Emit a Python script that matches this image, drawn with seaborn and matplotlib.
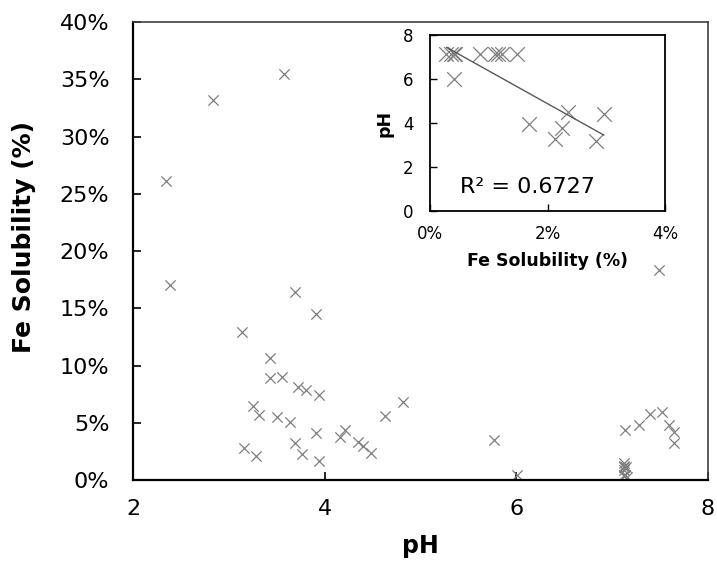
import matplotlib
matplotlib.use("Agg")
import matplotlib.pyplot as plt
import seaborn as sns
import numpy as np
import pandas as pd
from matplotlib.ticker import PercentFormatter

# pH values of the samples
ph = [2.34, 2.84, 3.58, 2.39, 3.69, 3.91, 3.14, 3.43, 3.43, 3.56,
      3.72, 3.81, 3.94, 3.25, 3.32, 3.50, 3.64, 3.91, 3.16, 3.28,
      3.69, 3.76, 3.94, 4.16, 4.21, 4.35, 4.40, 4.48, 4.63, 4.82,
      7.49, 5.77, 6.01, 7.13, 7.28, 7.39, 7.52, 7.59, 7.65, 7.65,
      7.15, 7.12, 7.13, 7.12, 7.12, 7.14, 7.12, 7.12, 7.12]
# Fe solubility in percent
sol_pct = [26.1, 33.2, 35.5, 17.0, 16.4, 14.5, 12.9, 10.7, 8.9, 9.0,
           8.1, 7.9, 7.4, 6.5, 5.7, 5.5, 5.1, 4.1, 2.82, 2.12,
           3.2, 2.25, 1.68, 3.8, 4.4, 3.3, 2.96, 2.35, 5.6, 6.8,
           18.3, 3.5, 0.40, 4.4, 4.8, 5.8, 5.9, 4.8, 4.2, 3.2,
           0.28, 0.35, 0.40, 0.43, 0.85, 1.11, 1.16, 1.22, 1.48]

main_xticks = [2, 4, 6, 8]
main_yticks = [0, 0.05, 0.10, 0.15, 0.20, 0.25, 0.30, 0.35, 0.40]
inset_xticks = [0, 0.02, 0.04]
inset_yticks = [0, 2, 4, 6, 8]
inset_cutoff = 3.0
r2_text = "R² = 0.6727"

sns.set_style("ticks")
plt.rcParams['font.family'] = ['DejaVu Sans']
plt.rcParams['axes.labelcolor'] = 'black'
plt.rcParams['text.color'] = 'black'

df = pd.DataFrame({"pH": ph, "sol": np.array(sol_pct) / 100.0})
sub = df[df["sol"] * 100 < inset_cutoff]

fig = plt.figure(figsize=(7.17, 5.67), dpi=100)
ax = fig.add_axes([0.1855, 0.1534, 0.9874 - 0.1855, 0.9612 - 0.1534])

mcol = "#7f7f7f"
sns.scatterplot(data=df, x="pH", y="sol", ax=ax, marker="x", s=55,
                color=mcol, linewidth=0.9, legend=False)
ax.set_xlim(2, 8)
ax.set_ylim(0, 0.40)
ax.set_xticks(main_xticks)
ax.set_yticks(main_yticks)
ax.yaxis.set_major_formatter(PercentFormatter(1.0, decimals=0))
ax.tick_params(direction="in", length=6, width=1.2, labelsize=16,
               colors="black")
ax.tick_params(axis="y", pad=17)
ax.tick_params(axis="x", pad=14)
ax.set_xlabel("pH", fontsize=17, fontweight="bold", color="black")
ax.set_ylabel("Fe Solubility (%)", fontsize=18, fontweight="bold", color="black")
ax.xaxis.set_label_coords(0.499, -0.118)
ax.yaxis.set_label_coords(-0.168, 0.53)
for side in ["left", "bottom"]:
    ax.spines[side].set_linewidth(1.6)
    ax.spines[side].set_color("black")
for side in ["top", "right"]:
    ax.spines[side].set_visible(True)
    ax.spines[side].set_linewidth(1.2)
    ax.spines[side].set_color("#404040")

# inset
ia = fig.add_axes([430 / 717, 1 - 211 / 567, 235 / 717, 176 / 567])
sns.scatterplot(data=sub, x="sol", y="pH", ax=ia, marker="x", s=110,
                color=mcol, linewidth=0.9, legend=False)
sns.regplot(data=sub, x="sol", y="pH", ax=ia, scatter=False, ci=None,
            line_kws={"color": "#595959", "linewidth": 1.0})
ia.set_xlim(0, 0.04)
ia.set_ylim(0, 8)
ia.set_xticks(inset_xticks)
ia.set_yticks(inset_yticks)
ia.xaxis.set_major_formatter(PercentFormatter(1.0, decimals=0))
ia.tick_params(direction="in", length=5, width=1.0, labelsize=12,
               colors="black")
ia.tick_params(axis="y", pad=12)
ia.tick_params(axis="x", pad=10)
ia.set_xlabel("Fe Solubility (%)", fontsize=12.5, fontweight="bold", color="black")
ia.set_ylabel("pH", fontsize=12.5, fontweight="bold", color="black")
ia.xaxis.set_label_coords(0.5, -0.235)
ia.yaxis.set_label_coords(-0.155, 0.5)
for side in ["left", "bottom", "top", "right"]:
    ia.spines[side].set_visible(True)
    ia.spines[side].set_linewidth(1.3)
    ia.spines[side].set_color("black")
ia.text(0.0051, 0.82, r2_text, fontsize=16, color="black", va="baseline")
ia.set_facecolor("white")

fig.savefig("out.png", dpi=100)
